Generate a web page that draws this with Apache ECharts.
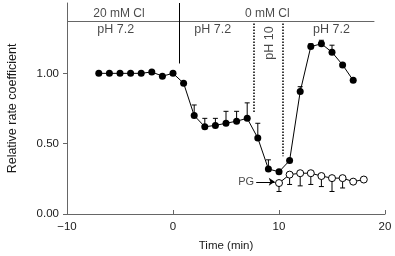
<!DOCTYPE html>
<html>
<head>
<meta charset="utf-8">
<script src="https://cdn.jsdelivr.net/npm/echarts@6/dist/echarts.min.js"></script>
<style>
  html, body { margin: 0; padding: 0; background: #fff; }
  #chart { width: 395px; height: 256px; }
</style>
</head>
<body>
<div id="chart"></div>
<script>
// filled circles: control (Cl removal, pH changes)
const filledTime  = [-7, -6, -5, -4, -3, -2, -1, 0, 1, 2, 3, 4, 5, 6, 7, 8, 9, 10, 11, 12, 13, 14, 15, 16, 17];
const filledValue = [1.00, 1.00, 1.00, 1.00, 1.00, 1.01, 0.98, 1.00, 0.93, 0.70, 0.62, 0.63, 0.645, 0.66, 0.68, 0.54, 0.32, 0.30, 0.38, 0.87, 1.19, 1.21, 1.15, 1.06, 0.95];
// upper error bars of filled circles
const filledErrTime = [2, 3, 4, 5, 6, 7, 8, 9, 12, 13, 14, 15];
const filledErrTop  = [0.775, 0.68, 0.68, 0.73, 0.73, 0.79, 0.645, 0.385, 0.905, 1.21, 1.235, 1.20];

// open circles: PG
const openTime  = [10, 11, 12, 13, 14, 15, 16, 17, 18];
const openValue = [0.22, 0.28, 0.29, 0.29, 0.27, 0.255, 0.255, 0.23, 0.245];
// lower error bars of open circles
const openErrTime   = [10, 11, 12, 13, 14, 15, 16];
const openErrBottom = [0.16, 0.21, 0.20, 0.21, 0.195, 0.16, 0.185];

const xTicks = [-10, 0, 10, 20];
const yTicks = [0, 0.5, 1.0];

// annotation texts: [text, time, value, rotate, size]
const notes = [
  ['20 mM Cl', -5.1, 1.425, 0, 12],
  ['0 mM Cl', 8.9, 1.425, 0, 12],
  ['pH 7.2', -5.4, 1.31, 0, 12.5],
  ['pH 7.2', 3.75, 1.31, 0, 12.5],
  ['pH 10', 9.1, 1.215, 90, 12.5],
  ['pH 7.2', 14.95, 1.31, 0, 12.5],
  ['PG', 6.9, 0.229, 0, 11]
];

const font = 'Liberation Sans, Arial, Helvetica, sans-serif';
const ink = '#1a1a1a';
const axisGrey = '#666';
const fs = 11.5;

const zip = (a, b) => a.map((v, i) => [v, b[i]]);

function errorBar(params, api) {
  const x = api.value(0);
  const p0 = api.coord([x, api.value(1)]);
  const p1 = api.coord([x, api.value(2)]);
  const half = 2.5;
  return {
    type: 'group',
    children: [
      { type: 'line', shape: { x1: p0[0], y1: p0[1], x2: p1[0], y2: p1[1] },
        style: { stroke: '#000', lineWidth: 1 } },
      { type: 'line', shape: { x1: p1[0] - half, y1: p1[1], x2: p1[0] + half, y2: p1[1] },
        style: { stroke: '#000', lineWidth: 1 } }
    ]
  };
}

const filledValueAt = t => filledValue[filledTime.indexOf(t)];
const openValueAt = t => openValue[openTime.indexOf(t)];

const chart = echarts.init(document.getElementById('chart'));
chart.setOption({
  animation: false,
  textStyle: { fontFamily: font },
  grid: { left: 67, right: 10, top: 3, bottom: 42, outerBoundsMode: 'none', containLabel: false },
  xAxis: {
    type: 'value',
    min: -10, max: 20, interval: 10,
    name: 'Time (min)',
    nameLocation: 'middle',
    nameGap: 26,
    nameTextStyle: { fontSize: fs, color: ink, fontFamily: font },
    axisLine: { onZero: false, lineStyle: { color: axisGrey, width: 1 } },
    axisTick: { inside: true, length: 4, lineStyle: { color: axisGrey }, customValues: xTicks },
    axisLabel: {
      fontSize: fs, color: ink, margin: 7, customValues: xTicks,
      formatter: v => String(v).replace('-', '\u2212')
    },
    splitLine: { show: false }
  },
  yAxis: {
    type: 'value',
    min: 0, max: 1.5,
    name: 'Relative rate coefficient',
    nameLocation: 'middle',
    nameGap: 48,
    nameTextStyle: { fontSize: 12.5, color: ink, fontFamily: font },
    axisLine: { show: true, onZero: false, lineStyle: { color: axisGrey, width: 1 } },
    axisTick: { show: true, length: 4, lineStyle: { color: axisGrey }, customValues: yTicks },
    axisLabel: {
      fontSize: fs, color: ink, margin: 8, customValues: yTicks,
      formatter: v => v.toFixed(2)
    },
    splitLine: { show: false }
  },
  series: [
    {
      type: 'custom',
      silent: true,
      z: 1,
      renderItem: errorBar,
      data: filledErrTime.map((t, i) => [t, filledValueAt(t), filledErrTop[i]])
    },
    {
      type: 'custom',
      silent: true,
      z: 1,
      renderItem: errorBar,
      data: openErrTime.map((t, i) => [t, openValueAt(t), openErrBottom[i]])
    },
    {
      type: 'line',
      z: 3,
      data: zip(filledTime, filledValue),
      symbol: 'circle',
      symbolSize: 7,
      itemStyle: { color: '#000' },
      lineStyle: { color: '#000', width: 1 }
    },
    {
      type: 'line',
      z: 4,
      data: zip(openTime, openValue),
      symbol: 'circle',
      symbolSize: 7,
      itemStyle: { color: '#fff', borderColor: '#000', borderWidth: 1 },
      lineStyle: { color: '#000', width: 1 }
    },
    {
      // annotation lines
      type: 'line',
      data: [],
      silent: true,
      markLine: {
        silent: true,
        symbol: 'none',
        label: { show: false },
        animation: false,
        data: [
          [{ coord: [-10, 1.373], lineStyle: { color: axisGrey, width: 1, type: 'solid' } }, { coord: [19, 1.373] }],
          [{ coord: [0.6, 1.5], lineStyle: { color: '#000', width: 1, type: 'solid' } }, { coord: [0.6, 1.07] }],
          [{ coord: [7.6, 1.355], lineStyle: { color: '#000', width: 1.5, type: 'dotted' } }, { coord: [7.6, 0.72] }],
          [{ coord: [10.4, 1.355], lineStyle: { color: '#000', width: 1.5, type: 'dotted' } }, { coord: [10.4, 0.41] }],
          [{ coord: [7.85, 0.229], symbol: 'none', lineStyle: { color: '#000', width: 1, type: 'solid' } },
           { coord: [9.6, 0.229], symbol: 'arrow', symbolSize: 6 }]
        ]
      }
    },
    {
      // annotation texts
      type: 'scatter',
      silent: true,
      symbolSize: 0,
      data: notes.map(n => ({
        value: [n[1], n[2]],
        label: {
          show: true, position: 'inside', formatter: n[0], rotate: n[3],
          fontSize: n[4], color: ink, fontFamily: font
        }
      }))
    }
  ]
});
</script>
</body>
</html>
